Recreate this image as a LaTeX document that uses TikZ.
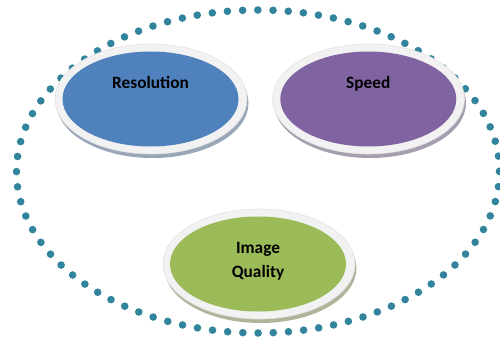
\documentclass[tikz,border=0pt]{standalone}
\usepackage{fontspec}
\setmainfont{Carlito}
\usetikzlibrary{shapes.geometric,positioning}
\definecolor{resblue}{HTML}{4F81BD}
\definecolor{speedpurple}{HTML}{8064A2}
\definecolor{qualgreen}{HTML}{9BBB59}
\definecolor{dotteal}{HTML}{31849B}
\definecolor{ringgray}{HTML}{F2F2F2}

\begin{document}
\begin{tikzpicture}[x=1pt, y=-1pt,
    bubble/.style={ellipse, minimum width=176pt, minimum height=95pt, inner sep=0pt},
    ring/.style={fill=ringgray, draw=gray!22, line width=0.6pt},
    lbl/.style={font=\fontsize{17.3}{24}\selectfont\bfseries, text=black,
      inner sep=0pt, align=center}]

    \useasboundingbox (0,0) rectangle (500,340);

    % dotted outline round everything
    \draw[dotteal, line width=7.6pt, line cap=round,
      dash pattern=on 0pt off 15.22pt]
      (258,171.5) ellipse [x radius=241.5, y radius=161.5];

    % Resolution
    \fill[resblue!40!gray!70] (152.5,103) ellipse [x radius=96, y radius=55];
    \filldraw[ring] (151,99) ellipse [x radius=96, y radius=55];
    \node[bubble, fill=resblue] (res) at (150.5,99) {};
    \node[lbl, anchor=base] (reslbl) at ([yshift=10.7pt]res.center) {Resolution};

    % Speed
    \fill[speedpurple!40!gray!70] (370,103) ellipse [x radius=96, y radius=55];
    \filldraw[ring] (368.5,99) ellipse [x radius=96, y radius=55];
    \node[bubble, fill=speedpurple] (speed) at (368.3,99) {};
    \node[lbl, anchor=base] (speedlbl) at ([yshift=10.7pt]speed.center) {Speed};

    % Image Quality
    \fill[qualgreen!40!gray!70] (260.5,268) ellipse [x radius=96, y radius=55];
    \filldraw[ring] (259,264) ellipse [x radius=96, y radius=55];
    \node[bubble, fill=qualgreen] (qual) at (258,264) {};
    \node[lbl] (quallbl) at ([yshift=2.5pt]qual.center) {Image\\Quality};

\end{tikzpicture}
\end{document}
